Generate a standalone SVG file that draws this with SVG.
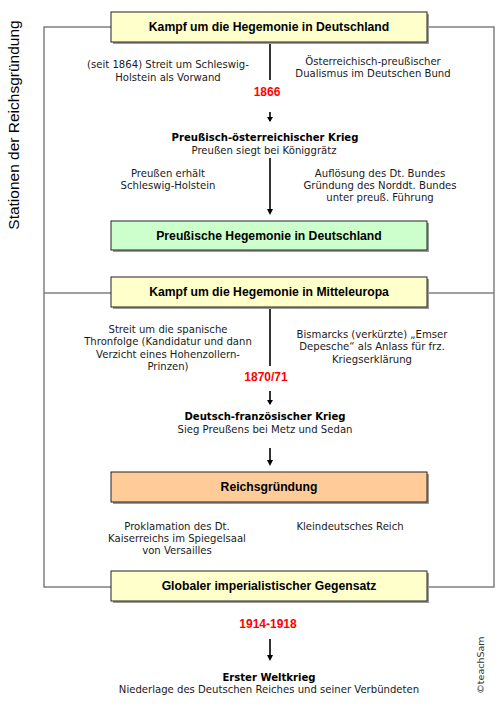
<svg xmlns="http://www.w3.org/2000/svg" width="500" height="707" viewBox="0 0 500 707">
<defs>
<style>
.frame{fill:none;stroke:#808080;stroke-width:1.5}
.box{stroke:#222;stroke-width:1}
.shadow{fill:#9a9a9a}
.ttl{font-family:"Liberation Sans",Arial,sans-serif;font-weight:bold;font-size:12.2px;fill:#000;text-anchor:middle}
.t{font-family:"DejaVu Sans",Verdana,sans-serif;font-size:10.1px;fill:#1a1a1a;text-anchor:middle}
.tb{font-family:"DejaVu Sans",Verdana,sans-serif;font-size:10.1px;font-weight:bold;fill:#000;text-anchor:middle}
.yr{font-family:"Liberation Sans",Arial,sans-serif;font-weight:bold;font-size:12px;fill:#ff0000;text-anchor:middle}
.ln{stroke:#000;stroke-width:1.6;fill:none}
.ah{fill:#000}
</style>
</defs>
<rect width="500" height="707" fill="#fff"/>
<text transform="translate(19,125) rotate(-90)" font-family="Liberation Sans,Arial,sans-serif" font-size="15.5" text-anchor="middle" fill="#000">Stationen der Reichsgründung</text>
<g id="frames">
<path class="frame" d="M44,587 L44,27 L494,27 L494,587 Z M44,293 L494,293"/>
</g>
<g id="connectors">
<line class="ln" x1="270" y1="42" x2="270" y2="80"/>
<line class="ln" x1="270" y1="112" x2="270" y2="121"/>
<path class="ah" d="M267,117 L270,122 L273,117 Z"/>
<line class="ln" x1="270" y1="158" x2="270" y2="213"/>
<path class="ah" d="M267,209 L270,215 L273,209 Z"/>
<line class="ln" x1="270" y1="307" x2="270" y2="366"/>
<line class="ln" x1="270" y1="391" x2="270" y2="404"/>
<path class="ah" d="M267,400 L270,405 L273,400 Z"/>
<line class="ln" x1="270" y1="448" x2="270" y2="464"/>
<path class="ah" d="M267,460 L270,466 L273,460 Z"/>
<line class="ln" x1="270" y1="639" x2="270" y2="659"/>
<path class="ah" d="M267,655 L270,661 L273,655 Z"/>
</g>
<g id="n1">
<rect class="shadow" x="113" y="14" width="316" height="30"/>
<rect class="box" x="111" y="12" width="316" height="30" fill="#ffffcc"/>
<text class="ttl" x="269" y="31">Kampf um die Hegemonie in Deutschland</text>
</g>
<g id="n1l"><text class="t" x="168" y="68">(seit 1864) Streit um Schleswig-</text><text class="t" x="168" y="81">Holstein als Vorwand</text></g>
<g id="n1r"><text class="t" x="373" y="65">Österreichisch-preußischer</text><text class="t" x="373" y="77">Dualismus im Deutschen Bund</text></g>
<g id="y1866"><text class="yr" x="267" y="96">1866</text></g>
<g id="krieg1"><text class="tb" x="265" y="141">Preußisch-österreichischer Krieg</text><text class="t" x="264" y="154">Preußen siegt bei Königgrätz</text></g>
<g id="n2l"><text class="t" x="168" y="177">Preußen erhält</text><text class="t" x="168" y="189">Schleswig-Holstein</text></g>
<g id="n2r"><text class="t" x="380" y="177">Auflösung des Dt. Bundes</text><text class="t" x="380" y="189">Gründung des Norddt. Bundes</text><text class="t" x="380" y="201">unter preuß. Führung</text></g>
<g id="n2">
<rect class="shadow" x="113" y="223" width="316" height="29"/>
<rect class="box" x="111" y="221" width="316" height="29" fill="#ccffcc"/>
<text class="ttl" x="269" y="240">Preußische Hegemonie in Deutschland</text>
</g>
<g id="n3">
<rect class="shadow" x="113" y="279" width="316" height="30"/>
<rect class="box" x="111" y="277" width="316" height="30" fill="#ffffcc"/>
<text class="ttl" x="269" y="296">Kampf um die Hegemonie in Mitteleuropa</text>
</g>
<g id="n3l"><text class="t" x="168" y="333">Streit um die spanische</text><text class="t" x="168" y="345">Thronfolge (Kandidatur und dann</text><text class="t" x="168" y="358">Verzicht eines Hohenzollern-</text><text class="t" x="168" y="370">Prinzen)</text></g>
<g id="n3r"><text class="t" x="372" y="338">Bismarcks (verkürzte) „Emser</text><text class="t" x="372" y="350">Depesche“ als Anlass für frz.</text><text class="t" x="372" y="363">Kriegserklärung</text></g>
<g id="y1870"><text class="yr" x="266" y="381">1870/71</text></g>
<g id="krieg2"><text class="tb" x="265" y="420">Deutsch-französischer Krieg</text><text class="t" x="265" y="433">Sieg Preußens bei Metz und Sedan</text></g>
<g id="n4">
<rect class="shadow" x="113" y="474" width="316" height="30"/>
<rect class="box" x="111" y="472" width="316" height="30" fill="#ffcc99"/>
<text class="ttl" x="269" y="491">Reichsgründung</text>
</g>
<g id="n4l"><text class="t" x="177" y="530">Proklamation des Dt.</text><text class="t" x="177" y="542">Kaiserreichs im Spiegelsaal</text><text class="t" x="177" y="554">von Versailles</text></g>
<g id="n4r"><text class="t" x="350" y="530">Kleindeutsches Reich</text></g>
<g id="n5">
<rect class="shadow" x="113" y="573" width="316" height="30"/>
<rect class="box" x="111" y="571" width="316" height="30" fill="#ffffcc"/>
<text class="ttl" x="269" y="590">Globaler imperialistischer Gegensatz</text>
</g>
<g id="y1914"><text class="yr" x="268" y="628">1914-1918</text></g>
<g id="krieg3"><text class="tb" x="269" y="681">Erster Weltkrieg</text><text class="t" x="269" y="693">Niederlage des Deutschen Reiches und seiner Verbündeten</text></g>
<text transform="translate(484,665) rotate(-90)" font-family="DejaVu Sans,Verdana,sans-serif" font-size="9.5" text-anchor="middle" fill="#333">©teachSam</text>
</svg>
